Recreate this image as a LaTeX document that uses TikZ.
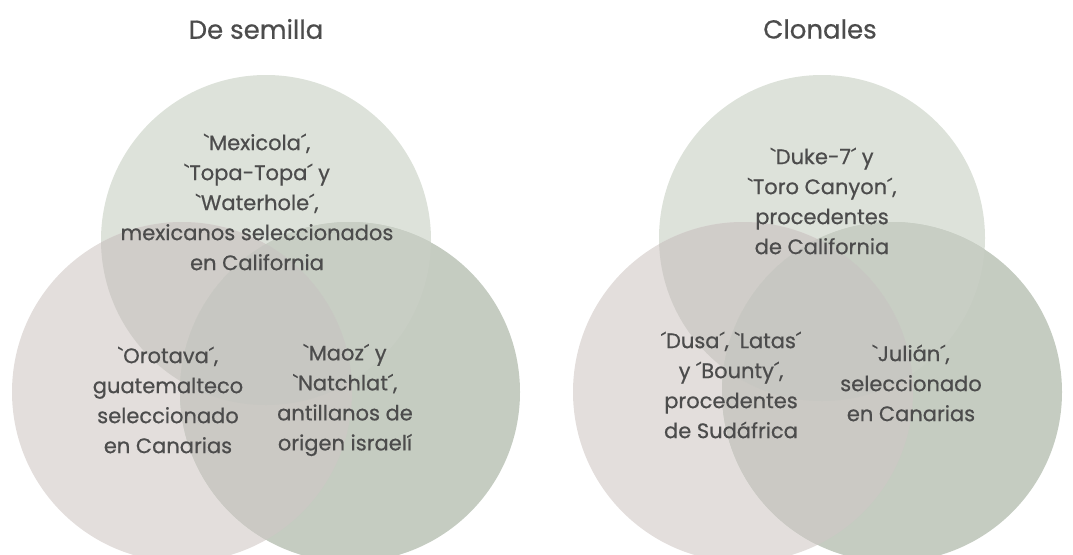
\documentclass[tikz,border=0pt]{standalone}
\usepackage{fontspec}
\usepackage{xcolor}
\newfontfamily\venfont{Poppins}[FakeBold=0.6]

\definecolor{topgreen}{RGB}{221,226,218}
\definecolor{leftrose}{RGB}{227,222,220}
\definecolor{rightgreen}{RGB}{197,204,193}
\definecolor{topleft}{RGB}{208,205,201}
\definecolor{topright}{RGB}{200,206,196}
\definecolor{leftright}{RGB}{203,201,196}
\definecolor{allthree}{RGB}{199,199,194}
\definecolor{txtgrey}{RGB}{76,76,76}

% fill the seven regions of a three-set diagram
\newcommand{\vennfill}[3]{%
    \fill[topgreen] #1;
    \fill[leftrose] #2;
    \fill[rightgreen] #3;
    \begin{scope}\clip #2; \fill[topleft] #1; \end{scope}
    \begin{scope}\clip #3; \fill[topright] #1; \end{scope}
    \begin{scope}\clip #2; \fill[leftright] #3; \end{scope}
    \begin{scope}\clip #2; \clip #3; \fill[allthree] #1; \end{scope}
}

\begin{document}
\begin{tikzpicture}[x=1pt, y=-1pt,
        vtext/.style={align=center, text=txtgrey, inner sep=0pt,
            font=\venfont\fontsize{21}{30}\selectfont},
        vtitle/.style={text=txtgrey, inner sep=0pt,
            font=\venfont\fontsize{26}{32}\selectfont}]

        \useasboundingbox (0,0) rectangle (1073,554);
        \clip (0,0) rectangle (1073,554);

        % De semilla
        \coordinate (semT) at (266,240);
        \coordinate (semL) at (182,392);
        \coordinate (semR) at (350,392);
        \vennfill{(semT) circle[radius=165]}{(semL) circle[radius=170]}{(semR) circle[radius=170]}

        % Clonales
        \coordinate (cloT) at (822,238);
        \coordinate (cloL) at (743,392);
        \coordinate (cloR) at (892,392);
        \vennfill{(cloT) circle[radius=163]}{(cloL) circle[radius=170]}{(cloR) circle[radius=170]}

        % Titles
        \node[vtitle] (semtitle) at (256,29) {De semilla};
        \node[vtitle] (clotitle) at (820,29) {Clonales};

        % Labels of De semilla
        \node[vtext] (semtop) at (257,202) {`Mexicola´,\\`Topa-Topa´ y\\`Waterhole´,\\mexicanos seleccionados\\en California};
        \node[vtext] (semleft) at (168,400) {`Orotava´,\\guatemalteco\\seleccionado\\en Canarias};
        \node[vtext] (semright) at (345,400) {`Maoz´ y\\`Natchlat´,\\antillanos de\\origen israelí};

        % Labels of Clonales
        \node[vtext] (clotop) at (822,201) {`Duke-7´ y\\`Toro Canyon´,\\procedentes\\de California};
        \node[vtext] (cloleft) at (731,385) {´Dusa´, `Latas´\\y ´Bounty´,\\procedentes\\de Sudáfrica};
        \node[vtext] (cloright) at (911,383) {`Julián´,\\seleccionado\\en Canarias};

    \end{tikzpicture}
\end{document}
